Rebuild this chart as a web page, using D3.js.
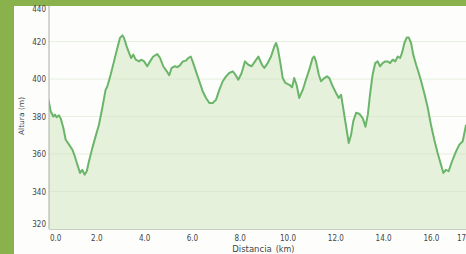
<!DOCTYPE html>
<html>
<head>
<meta charset="utf-8">
<script src="https://cdn.jsdelivr.net/npm/d3@7"></script>
<style>
  body { margin: 0; background: #fff; }
  svg { display: block; }
  .tick text { font-family: "DejaVu Sans Condensed", "DejaVu Sans", sans-serif; font-size: 8px; fill: #444; }
</style>
</head>
<body>
<div id="chart"></div>
<script>
// elevation profile
var distKm = [0.00, 0.09, 0.20, 0.27, 0.34, 0.44, 0.51, 0.62, 0.72, 0.86, 1.00, 1.10, 1.21, 1.32, 1.41, 1.51, 1.60, 1.69, 1.83, 1.97,
	2.11, 2.25, 2.39, 2.46, 2.60, 2.74, 2.88, 2.99, 3.09, 3.16, 3.27, 3.37, 3.46, 3.55, 3.65, 3.79, 3.88, 4.00, 4.13, 4.25,
	4.38, 4.55, 4.67, 4.80, 4.95, 5.05, 5.15, 5.29, 5.39, 5.50, 5.62, 5.75, 5.85, 5.95, 6.03, 6.17, 6.31, 6.45, 6.59, 6.73,
	6.87, 7.01, 7.15, 7.29, 7.43, 7.56, 7.71, 7.82, 7.94, 8.08, 8.22, 8.36, 8.50, 8.64, 8.78, 8.93, 9.03, 9.17, 9.31, 9.45,
	9.52, 9.59, 9.69, 9.80, 9.91, 10.08, 10.19, 10.28, 10.38, 10.49, 10.64, 10.77, 10.91, 11.05, 11.12, 11.19, 11.31, 11.40, 11.54, 11.65,
	11.75, 11.89, 12.03, 12.14, 12.24, 12.33, 12.45, 12.56, 12.66, 12.75, 12.87, 13.00, 13.15, 13.26, 13.36, 13.45, 13.56, 13.67, 13.77, 13.87,
	13.98, 14.09, 14.19, 14.29, 14.40, 14.51, 14.61, 14.71, 14.79, 14.89, 14.99, 15.07, 15.17, 15.26, 15.38, 15.49, 15.59, 15.72, 15.87, 16.00,
	16.14, 16.28, 16.42, 16.52, 16.63, 16.74, 16.88, 17.05, 17.19, 17.33, 17.47];
var altM = [389, 382.8, 380, 381, 379.6, 380.6, 379, 374, 367.6, 365, 362.3, 358.8, 354.3, 349.9, 351.6, 349, 350.8, 356, 363, 369.4,
	375.6, 384.5, 394.3, 396, 402.3, 409.4, 416.5, 421.9, 423.3, 421.9, 417.4, 413.9, 411.2, 413, 410.3, 409.4, 410.3, 409.4, 406.8, 409.4,
	412, 413.3, 411.2, 406.8, 404.1, 402, 405.9, 406.8, 406.3, 407.3, 409.4, 409.8, 411.2, 412, 409.4, 404.1, 398.8, 393.5, 389.9, 387.2,
	387.2, 389, 394.3, 398.8, 401.4, 403.2, 404.1, 402.3, 399.6, 403.2, 409.4, 407.6, 406.8, 409.4, 412, 407.6, 405.9, 408.5, 412, 417.4,
	419.2, 416.5, 409.4, 400.5, 397.9, 396.9, 395.6, 400.5, 396.9, 389.9, 394.3, 399.6, 405, 411.2, 412, 409.4, 402.3, 398.8, 400.5, 401.4,
	400.5, 396.1, 392.5, 389.9, 391.6, 384.5, 374.8, 365.9, 370.3, 377.4, 382, 381.5, 379, 374.5, 381, 391.6, 402.3, 408.5, 409.4, 406.8,
	408.5, 409.4, 409.4, 408.5, 410.3, 409.4, 412, 411.2, 413.9, 419.2, 422.2, 422.2, 419.2, 413, 407.6, 403.2, 398.8, 392.5, 384.5, 375.6,
	367.6, 360.5, 354.3, 349.9, 351.6, 350.8, 356, 361.4, 365, 366.8, 375.6];

var xTicks = [0, 2, 4, 6, 8, 10, 12, 14, 16, 17.4];
var yTicks = [320, 340, 360, 380, 400, 420, 440];

var width = 466, height = 254;
var plotLeft = 49, plotTop = 6, plotBottom = 229;

var data = distKm.map(function(d, i){ return {km: d, alt: altM[i]}; });

var svg = d3.select("#chart").append("svg")
	.attr("width", width)
	.attr("height", height);

// green page border and white card
svg.append("rect").attr("width", width).attr("height", height).attr("fill", "#8ab24c");
svg.append("rect").attr("x", 14).attr("y", 6).attr("width", width - 14).attr("height", height - 6).attr("fill", "#fdfefb");

var xscale = d3.scaleLinear()
	.domain([0, 17.4])
	.range([48.5, 464.4]);

var yscale = d3.scaleLinear()
	.domain([320, 440])
	.range([plotBottom, 4]);

svg.append("clipPath").attr("id", "plotclip")
	.append("rect")
	.attr("x", plotLeft).attr("y", plotTop)
	.attr("width", width - plotLeft).attr("height", plotBottom - plotTop);

var plot = svg.append("g").attr("clip-path", "url(#plotclip)");

var area = d3.area()
	.x(function(d){ return xscale(d.km); })
	.y0(plotBottom)
	.y1(function(d){ return yscale(d.alt); });

var line = d3.line()
	.x(function(d){ return xscale(d.km); })
	.y(function(d){ return yscale(d.alt); });

plot.append("path")
	.datum(data)
	.attr("d", area)
	.attr("fill", "#e5f1da");

// faint horizontal grid
plot.selectAll(".grid")
	.data(yTicks.slice(1, -1))
	.enter()
	.append("line")
	.attr("class", "grid")
	.attr("x1", plotLeft).attr("x2", width)
	.attr("y1", function(d){ return yscale(d); })
	.attr("y2", function(d){ return yscale(d); })
	.attr("stroke", "#d6e4cb")
	.attr("stroke-width", 0.8)
	.attr("opacity", 0.7);

plot.append("path")
	.datum(data)
	.attr("d", line)
	.attr("fill", "none")
	.attr("stroke", "#6bb56a")
	.attr("stroke-width", 2)
	.attr("stroke-linejoin", "round");

// axes
var xAxis = d3.axisBottom(xscale)
	.tickValues(xTicks)
	.tickFormat(d3.format(".1f"))
	.tickSize(0)
	.tickPadding(6);

var yAxis = d3.axisLeft(yscale)
	.tickValues(yTicks)
	.tickFormat(d3.format("d"))
	.tickSize(0)
	.tickPadding(3);

var xg = svg.append("g")
	.attr("transform", "translate(0," + plotBottom + ")")
	.call(xAxis);
xg.select(".domain").remove();
xg.selectAll(".tick text").filter(function(d){ return d === 0; })
	.attr("text-anchor", "start").attr("x", 1);

var yg = svg.append("g")
	.attr("transform", "translate(" + plotLeft + ",0)")
	.call(yAxis);
yg.select(".domain").remove();
yg.selectAll(".tick text").filter(function(d){ return d === 440; }).attr("dy", "0.95em");
yg.selectAll(".tick text").filter(function(d){ return d === 320; }).attr("dy", "-0.35em");

svg.append("line")
	.attr("x1", plotLeft).attr("x2", plotLeft)
	.attr("y1", plotTop).attr("y2", plotBottom)
	.attr("stroke", "#a9ada5").attr("stroke-width", 1);
svg.append("line")
	.attr("x1", plotLeft).attr("x2", width)
	.attr("y1", plotBottom + 0.5).attr("y2", plotBottom + 0.5)
	.attr("stroke", "#c9cec4").attr("stroke-width", 1);

// axis titles
svg.append("text")
	.attr("x", 252).attr("y", 252)
	.attr("text-anchor", "middle")
	.style("font-family", "DejaVu Sans, sans-serif")
	.style("font-size", "8.5px")
	.style("fill", "#444")
	.text("Distancia");
svg.append("text")
	.attr("x", 285).attr("y", 252)
	.attr("text-anchor", "middle")
	.style("font-family", "DejaVu Sans, sans-serif")
	.style("font-size", "8px")
	.style("fill", "#444")
	.text("(km)");

svg.append("text")
	.attr("transform", "translate(24,116) rotate(-90)")
	.attr("text-anchor", "middle")
	.style("font-family", "DejaVu Sans, sans-serif")
	.style("font-size", "7.5px")
	.style("fill", "#444")
	.text("Altura (m)");
</script>
</body>
</html>
